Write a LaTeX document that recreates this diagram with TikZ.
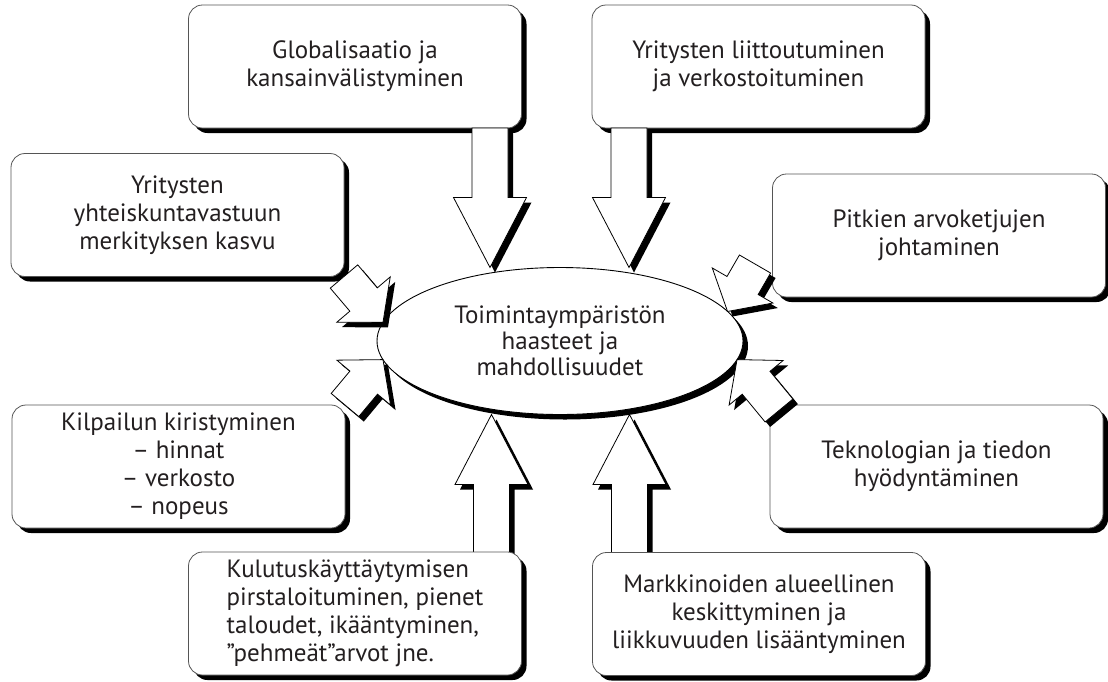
\documentclass[tikz,border=0pt]{standalone}
\usepackage{fontspec}
\setmainfont{PT Sans}
\usepackage{tikz}
\usetikzlibrary{
  shapes.geometric,
  calc,
  shadows
}
\definecolor{tyInk}{HTML}{231F20}
\definecolor{tyEdge}{HTML}{555555}
\tikzset{
  shadowed/.style={
    drop shadow={shadow xshift=5pt, shadow yshift=-5pt, fill=black, opacity=1}
  },
  trend/.style={
    draw=tyEdge, line width=0.8pt, fill=white, rounded corners=14pt,
    minimum width=333pt, minimum height=123pt, outer sep=0pt,
    align=center, text=tyInk, font=\fontsize{25}{28}\selectfont, shadowed
  },
  goal/.style={
    draw=black, line width=0.9pt, fill=white, ellipse,
    minimum width=366pt, minimum height=147pt, outer sep=0pt, inner sep=0pt,
    align=center, text=tyInk, font=\fontsize{25}{26}\selectfont, shadowed
  },
  % block arrow between two points: #1 = half width of the head, #2 = head length
  blockarrow/.style 2 args={
    draw=black, line width=0.8pt, fill=white, shadowed,
    to path={
      ($(\tikztostart)!18pt!90:(\tikztotarget)$)
      -- ($(\tikztotarget)!#2!(\tikztostart)!18pt!-90:(\tikztostart)$)
      -- ($(\tikztotarget)!#2!(\tikztostart)!#1!-90:(\tikztostart)$)
      -- (\tikztotarget)
      -- ($(\tikztotarget)!#2!(\tikztostart)!#1!90:(\tikztostart)$)
      -- ($(\tikztotarget)!#2!(\tikztostart)!18pt!90:(\tikztostart)$)
      -- ($(\tikztostart)!18pt!-90:(\tikztotarget)$)
      -- cycle
    }
  },
  longarrow/.style={blockarrow={36.5pt}{70pt}},
  shortarrow/.style={blockarrow={35pt}{30pt}}
}

\begin{document}
\begin{tikzpicture}[x=1pt, y=-1pt]
  \useasboundingbox (0,0) rectangle (1108,681);

  \node[goal] (goal) at (560,341) {Toimintaympäristön\\haasteet ja\\mahdollisuudet};

  % upward arrows sit under the lower boxes
  \coordinate (kulu-a) at (491.5,552.5);
  \coordinate (mark-a) at (629.5,553.5);
  \draw[longarrow] (kulu-a) to (goal.south -| kulu-a);
  \draw[longarrow] (mark-a) to (goal.south -| mark-a);

  \node[trend] (glob) at (355,66.5) {Globalisaatio ja\\kansainvälistyminen};
  \node[trend] (verk) at (758.5,66.5) {Yritysten liittoutuminen\\ja verkostoituminen};
  \node[trend] (yht) at (177.5,215) {Yritysten\\yhteiskuntavastuun\\merkityksen kasvu};
  \node[trend] (pitk) at (939,235.5) {Pitkien arvoketjujen\\johtaminen};
  \node[trend] (kilp) at (178.5,466.5) {Kilpailun kiristyminen\\– hinnat\\– verkosto\\– nopeus};
  \node[trend] (tekn) at (936.5,466.5) {Teknologian ja tiedon\\hyödyntäminen};
  \node[trend, align=left] (kulu) at (355,613.5) {Kulutuskäyttäytymisen\\pirstaloituminen, pienet\\taloudet, ikääntyminen,\\”pehmeät”arvot jne.};
  \node[trend] (mark) at (759,614) {Markkinoiden alueellinen\\keskittyminen ja\\liikkuvuuden lisääntyminen};

  % arrows into the ellipse
  \coordinate (glob-a) at ([xshift=135pt]glob.south);
  \coordinate (verk-a) at ([xshift=-129.5pt]verk.south);
  \coordinate (yht-a) at (yht.south east);
  \coordinate (kilp-a) at (kilp.north east);
  \coordinate (pitk-a) at ([xshift=-17.5pt, yshift=33pt]pitk.south west);
  \coordinate (tekn-a) at ([xshift=9pt, yshift=-5.5pt]tekn.north west);
  \draw[longarrow] (glob-a) to (goal.north -| glob-a);
  \draw[longarrow] (verk-a) to (goal.north -| verk-a);
  \draw[shortarrow] (yht-a) to (goal.174);
  \draw[shortarrow] (kilp-a) to (goal.186);
  \draw[shortarrow] (pitk-a) to (goal.10);
  \draw[shortarrow] (tekn-a) to (goal.-6);
\end{tikzpicture}
\end{document}
